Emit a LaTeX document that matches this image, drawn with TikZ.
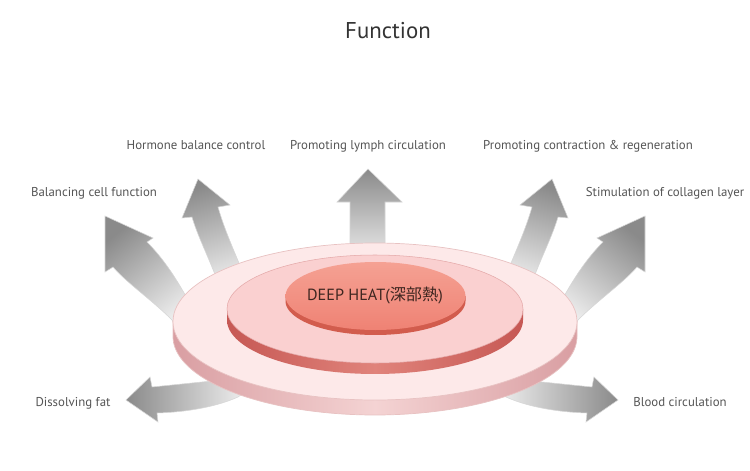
\documentclass[tikz,border=0pt]{standalone}
\usepackage{fontspec}
\setmainfont{PT Sans}
\newfontfamily\cjk{Noto Sans CJK JP}
\definecolor{arrD}{HTML}{8A8A8A}
\definecolor{arrL}{HTML}{EEEEEE}
\definecolor{arrE}{HTML}{D6D6D6}
\definecolor{oTop}{HTML}{FDE9E9}
\definecolor{oEdge}{HTML}{E8C2C2}
\definecolor{oSideD}{HTML}{D99EA2}
\definecolor{oSideL}{HTML}{F4D3D3}
\definecolor{mTop}{HTML}{FAD0D0}
\definecolor{mEdge}{HTML}{E4A9A9}
\definecolor{mSideD}{HTML}{C65854}
\definecolor{mSideL}{HTML}{E0837B}
\definecolor{iTopA}{HTML}{F5A193}
\definecolor{iTopB}{HTML}{EF8274}
\definecolor{iSide}{HTML}{D25C4D}
\definecolor{lblC}{HTML}{555555}
\definecolor{ttlC}{HTML}{333333}
\definecolor{heatC}{HTML}{3E2620}
\tikzset{
  arrowsty/.style={top color=arrD, bottom color=arrL, draw=arrE, line width=0.3pt},
  lbl/.style={text=lblC, font=\fontsize{7.3}{8.5}\selectfont, inner sep=0pt, anchor=base},
  ttl/.style={text=ttlC, font=\fontsize{13}{15}\selectfont, inner sep=0pt, anchor=base},
  heat/.style={text=heatC, font=\fontsize{9.2}{11}\selectfont, inner sep=0pt, anchor=base}
}
\newcommand\arrHB[1]{\path[arrowsty,shading angle=#1] (198,179) -- (230,205) -- (218,207)
  .. controls (224,228) and (232,246) .. (241,268) -- (244,285) -- (222,290) -- (214,272)
  .. controls (206,252) and (197,234) .. (192,217) -- (182,218) -- cycle;}
\newcommand\arrBC[1]{\path[arrowsty,shading angle=#1] (105,216) -- (153,238) -- (147,242)
  .. controls (163,258) and (176,278) .. (188,300) -- (192,315) -- (178,330) -- (172,320)
  .. controls (152,300) and (128,284) .. (113,267) -- (105,272) -- cycle;}
\newcommand\arrDF[1]{\path[arrowsty,shading angle=#1] (126,400) -- (150,377) -- (152,387)
  .. controls (172,385) and (192,383) .. (212,381) -- (225,375) -- (245,392) -- (238,397)
  .. controls (218,406) and (190,412) .. (157,413) -- (158,422) -- cycle;}
\begin{document}
\begin{tikzpicture}[x=0.02cm,y=-0.02cm]
\useasboundingbox[fill=white] (0,0) rectangle (750,470);
% title
\node[ttl] (title) at (388,38) {Function};
% arrows (behind discs)
\arrHB{18}
\arrBC{38}
\begin{scope}[shift={(750,0)},xscale=-1]
  \arrHB{-18}
  \arrBC{-38}
\end{scope}
\path[arrowsty] (368,169) -- (402,202) -- (385,202) -- (385,262) -- (350,262) -- (350,202) -- (337,202) -- cycle;
\arrDF{90}
\begin{scope}[shift={(744,0)},xscale=-1]
  \arrDF{-90}
\end{scope}
% outer disc
\path[left color=oSideD, right color=oSideD, middle color=oSideL, draw=oEdge, line width=0.4pt]
  (173,321.5) -- plot[domain=180:360,samples=90] ({375+202*cos(\x)},{336.5-78.5*sin(\x)}) -- (577,321.5) -- cycle;
\path[fill=oTop, draw=oEdge, line width=0.4pt] (375,321.5) ellipse [x radius=202, y radius=78.5];
% middle disc
\path[left color=mSideD, right color=mSideD, middle color=mSideL]
  (227,309) -- plot[domain=180:360,samples=90] ({375+148*cos(\x)},{320-54*sin(\x)}) -- (523,309) -- cycle;
\path[fill=mTop, draw=mEdge, line width=0.3pt] (375,309) ellipse [x radius=148, y radius=54];
% inner disc
\path[fill=iSide]
  (285.5,296) -- plot[domain=180:360,samples=90] ({375.5+90*cos(\x)},{301-34*sin(\x)}) -- (465.5,296) -- cycle;
\path[top color=iTopA, bottom color=iTopB] (375.5,296) ellipse [x radius=90, y radius=34];
\node[heat] (heat) at (375,300) {DEEP HEAT({\cjk 深部熱})};
% labels
\node[lbl] (hb) at (196,149.5) {Hormone balance control};
\node[lbl] (ly) at (368,149.5) {Promoting lymph circulation};
\node[lbl] (pc) at (588,149.5) {Promoting contraction \& regeneration};
\node[lbl] (bc) at (94,196.5) {Balancing cell function};
\node[lbl] (st) at (665,196.5) {Stimulation of collagen layer};
\node[lbl] (df) at (73,406.5) {Dissolving fat};
\node[lbl] (bl) at (680,406.5) {Blood circulation};
\end{tikzpicture}
\end{document}
